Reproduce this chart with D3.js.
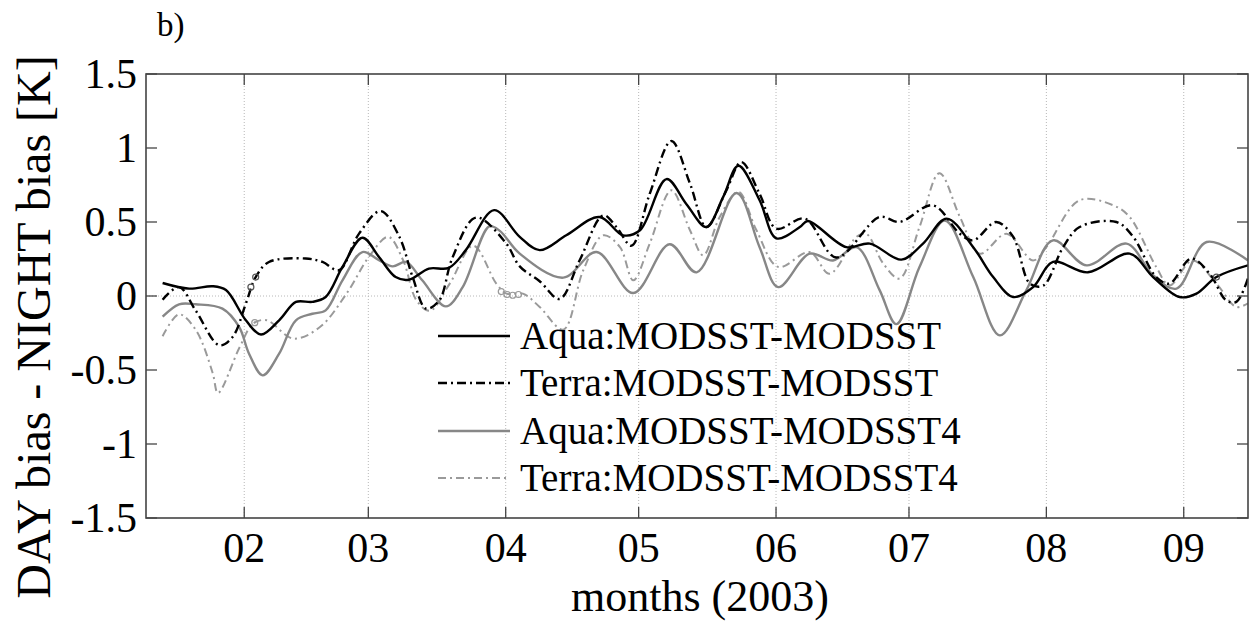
<!DOCTYPE html>
<html>
<head>
<meta charset="utf-8">
<script src="https://cdn.jsdelivr.net/npm/d3@7"></script>
</head>
<body style="margin:0">
<svg id="chart" width="1249" height="622" style="display:block; background:#fff; font-family: 'Liberation Serif', 'Times New Roman', serif;"></svg>
<script>
// ---------------- DATA (day-of-year 2003, value in K) ----------------
const monthTicks = ["02", "03", "04", "05", "06", "07", "08", "09"];
const yTicks = [1.5, 1, 0.5, 0, -0.5, -1, -1.5];
const yTickLabels = ["1.5", "1", "0.5", "0", "-0.5", "-1", "-1.5"];
const seriesNames = ["Aqua:MODSST-MODSST", "Terra:MODSST-MODSST", "Aqua:MODSST-MODSST4", "Terra:MODSST-MODSST4"];

const aquaDays = [13.6, 19.6, 24.9, 27.9, 32.4, 35.8, 39.9, 43.7, 47.4, 50.4, 54.2, 58.7, 62.5, 66.2, 69.2, 73.7, 78.2, 82.0, 88.4, 94.2, 98.7, 104.7, 112.2, 117.5, 121.3, 127.3, 131.8, 136.3, 140.1, 143.5, 148.3, 152.1, 157.4, 159.2, 167.9, 173.2, 180.3, 185.2, 190.5, 196.5, 201.0, 205.5, 210.0, 214.5, 222.4, 231.8, 237.1, 243.1, 246.9, 251.4, 258.5];
const aquaVals = [0.088, 0.05, 0.066, 0.04, -0.164, -0.26, -0.164, -0.04, -0.04, -0.007, 0.196, 0.394, 0.26, 0.128, 0.11, 0.185, 0.19, 0.31, 0.58, 0.40, 0.31, 0.41, 0.534, 0.41, 0.444, 0.79, 0.62, 0.466, 0.67, 0.88, 0.647, 0.39, 0.466, 0.507, 0.33, 0.354, 0.246, 0.354, 0.523, 0.33, 0.128, -0.007, 0.06, 0.23, 0.16, 0.286, 0.128, -0.007, 0.016, 0.128, 0.207];

const terraDays = [13.6, 17.3, 21.1, 26.4, 29.4, 32.4, 34.6, 37.6, 45.9, 49.7, 53.4, 57.9, 62.8, 67.0, 70.0, 73.0, 76.0, 79.0, 84.3, 91.0, 94.2, 98.7, 103.2, 107.7, 113.0, 116.0, 119.4, 123.5, 128.4, 132.6, 136.3, 140.8, 144.2, 148.3, 152.1, 158.5, 165.6, 175.4, 179.9, 187.4, 193.5, 196.5, 201.7, 205.5, 209.3, 212.3, 216.8, 220.5, 228.8, 232.6, 237.8, 240.8, 245.7, 249.9, 253.6, 255.9, 258.5];
const terraVals = [-0.025, 0.06, -0.1, -0.333, -0.277, -0.05, 0.128, 0.23, 0.253, 0.23, 0.174, 0.42, 0.574, 0.4, 0.128, -0.085, -0.03, 0.26, 0.53, 0.36, 0.2, 0.1, -0.02, 0.24, 0.545, 0.466, 0.34, 0.69, 1.047, 0.76, 0.466, 0.714, 0.905, 0.69, 0.455, 0.523, 0.26, 0.534, 0.5, 0.613, 0.42, 0.376, 0.5, 0.4, 0.084, 0.07, 0.33, 0.466, 0.5, 0.4, 0.128, 0.084, 0.253, 0.15, -0.03, -0.04, 0.12];

const aqua4Days = [13.6, 17.3, 21.1, 27.1, 30.9, 33.1, 36.2, 39.9, 43.7, 47.4, 50.4, 54.2, 58.7, 62.5, 65.5, 68.5, 72.2, 77.5, 81.3, 87.3, 89.7, 94.2, 104.0, 111.5, 119.8, 128.0, 134.1, 143.1, 148.3, 152.5, 159.6, 164.9, 170.2, 175.4, 179.2, 184.4, 190.1, 196.5, 202.5, 208.5, 214.5, 222.1, 231.1, 237.1, 242.4, 249.2, 258.5];
const aqua4Vals = [-0.14, -0.056, -0.056, -0.085, -0.21, -0.39, -0.536, -0.39, -0.164, -0.12, -0.097, 0.106, 0.297, 0.24, 0.2, 0.23, 0.106, -0.07, 0.06, 0.47, 0.44, 0.286, 0.124, 0.297, 0.02, 0.35, 0.16, 0.696, 0.33, 0.06, 0.286, 0.24, 0.33, 0.04, -0.19, 0.196, 0.51, 0.128, -0.266, 0.04, 0.376, 0.207, 0.354, 0.14, 0.05, 0.365, 0.24];

const terra4Days = [13.6, 17.3, 21.1, 24.9, 26.1, 31.0, 34.0, 37.1, 43.1, 49.1, 55.1, 60.4, 64.5, 67.9, 70.9, 73.9, 78.4, 83.7, 88.9, 91.2, 94.9, 98.7, 104.0, 108.5, 113.0, 116.8, 119.8, 123.5, 128.4, 132.6, 135.6, 139.3, 143.5, 147.6, 152.5, 159.6, 164.1, 170.2, 172.4, 176.2, 179.9, 184.4, 188.9, 193.5, 198.0, 204.0, 210.0, 213.0, 220.5, 228.1, 231.8, 237.8, 240.8, 246.0, 251.4, 255.9, 258.5];
const terra4Vals = [-0.272, -0.124, -0.23, -0.52, -0.655, -0.344, -0.186, -0.164, -0.288, -0.21, 0.016, 0.275, 0.4, 0.24, -0.03, -0.1, 0.084, 0.34, 0.084, 0.016, 0.016, -0.074, -0.227, 0.174, 0.41, 0.33, 0.106, 0.354, 0.714, 0.444, 0.275, 0.534, 0.703, 0.444, 0.196, 0.297, 0.15, 0.4, 0.42, 0.22, 0.118, 0.466, 0.83, 0.534, 0.286, 0.42, 0.24, 0.33, 0.647, 0.613, 0.534, 0.196, 0.072, 0.24, 0.084, -0.074, -0.05];

// small open circles seen on the curves (gap markers)
const markerDays = [33.5, 34.6, 34.4, 90.0, 91.3, 92.6, 93.9, 251.4];
const markerVals = [0.06, 0.128, -0.18, 0.03, 0.01, 0.005, 0.01, 0.128];
const markerSeries = [1, 1, 3, 3, 3, 3, 3, 0];

// ---------------- LAYOUT ----------------
const plotL = 146, plotR = 1248, plotT = 74, plotB = 518;
const dayToDate = d => new Date(2003, 0, Math.floor(d), (d % 1) * 24);

const svg = d3.select("#chart");
const x = d3.scaleTime()
  .domain([new Date(2003, 0, 9, 20), new Date(2003, 8, 15, 12)])
  .range([plotL, plotR]);
const y = d3.scaleLinear().domain([-1.5, 1.5]).range([plotB, plotT]);

const styles = [
  { color: "#000000", width: 2.4, dash: null },
  { color: "#000000", width: 2.4, dash: "9,4,2,4" },
  { color: "#878787", width: 2.4, dash: null },
  { color: "#9a9a9a", width: 2.0, dash: "8,4,2,4" }
];

const seriesData = [
  aquaDays.map((d, i) => ({ date: dayToDate(d), v: aquaVals[i] })),
  terraDays.map((d, i) => ({ date: dayToDate(d), v: terraVals[i] })),
  aqua4Days.map((d, i) => ({ date: dayToDate(d), v: aqua4Vals[i] })),
  terra4Days.map((d, i) => ({ date: dayToDate(d), v: terra4Vals[i] }))
];

const monthDates = monthTicks.map(m => new Date(2003, +m - 1, 1));

// grid
const grid = svg.append("g");
grid.selectAll("line.vg").data(monthDates).enter().append("line")
  .attr("x1", d => x(d)).attr("x2", d => x(d))
  .attr("y1", plotT).attr("y2", plotB)
  .attr("stroke", "#b8b8b8").attr("stroke-width", 1).attr("stroke-dasharray", "1,2");
grid.append("line")
  .attr("x1", plotL).attr("x2", plotR).attr("y1", y(0)).attr("y2", y(0))
  .attr("stroke", "#b8b8b8").attr("stroke-width", 1).attr("stroke-dasharray", "1,2");

// clip
svg.append("defs").append("clipPath").attr("id", "clip")
  .append("rect").attr("x", plotL).attr("y", plotT).attr("width", plotR - plotL).attr("height", plotB - plotT);

const line = d3.line().x(d => x(d.date)).y(d => y(d.v)).curve(d3.curveCatmullRom.alpha(0.5));
const plot = svg.append("g").attr("clip-path", "url(#clip)");
[3, 2, 1, 0].forEach(i => {
  plot.append("path").datum(seriesData[i])
    .attr("d", line)
    .attr("fill", "none")
    .attr("stroke", styles[i].color)
    .attr("stroke-width", styles[i].width)
    .attr("stroke-dasharray", styles[i].dash)
    .attr("stroke-linejoin", "round");
});
plot.selectAll("circle.mk").data(markerDays).enter().append("circle")
  .attr("cx", d => x(dayToDate(d)))
  .attr("cy", (d, i) => y(markerVals[i]))
  .attr("r", 3)
  .attr("fill", "none")
  .attr("stroke", (d, i) => markerSeries[i] === 3 ? "#999" : "#555")
  .attr("stroke-width", 1.2);

// axes frame
const axisColor = "#444";
const frame = svg.append("g");
frame.append("rect").attr("x", plotL).attr("y", plotT).attr("width", plotR - plotL).attr("height", plotB - plotT)
  .attr("fill", "none").attr("stroke", axisColor).attr("stroke-width", 1.6);

const tickLen = 11;
monthDates.forEach(d => {
  frame.append("line").attr("x1", x(d)).attr("x2", x(d)).attr("y1", plotB).attr("y2", plotB - tickLen)
    .attr("stroke", axisColor).attr("stroke-width", 1.3);
  frame.append("line").attr("x1", x(d)).attr("x2", x(d)).attr("y1", plotT).attr("y2", plotT + tickLen)
    .attr("stroke", axisColor).attr("stroke-width", 1.3);
});
yTicks.forEach(v => {
  frame.append("line").attr("x1", plotL).attr("x2", plotL + tickLen).attr("y1", y(v)).attr("y2", y(v))
    .attr("stroke", axisColor).attr("stroke-width", 1.3);
  frame.append("line").attr("x1", plotR).attr("x2", plotR - tickLen).attr("y1", y(v)).attr("y2", y(v))
    .attr("stroke", axisColor).attr("stroke-width", 1.3);
});

// tick labels
svg.selectAll("text.xt").data(monthTicks).enter().append("text")
  .attr("x", (d, i) => x(monthDates[i]))
  .attr("y", 562)
  .attr("text-anchor", "middle")
  .attr("font-size", 42)
  .style("font-family", "Liberation Serif")
  .text(d => d);
svg.selectAll("text.yt").data(yTicks).enter().append("text")
  .attr("x", 137)
  .attr("y", d => y(d) + 14)
  .attr("text-anchor", "end")
  .attr("font-size", 42)
  .style("font-family", "Liberation Serif")
  .text((d, i) => yTickLabels[i]);

// axis titles
svg.append("text")
  .attr("x", 700).attr("y", 611).attr("text-anchor", "middle")
  .attr("font-size", 44)
  .style("font-family", "Liberation Serif")
  .text("months (2003)");
svg.append("text")
  .attr("transform", "translate(50,327) rotate(-90)")
  .attr("text-anchor", "middle").attr("font-size", 48)
  .style("font-family", "Liberation Serif")
  .text("DAY bias - NIGHT bias [K]");

// panel label
svg.append("text").attr("x", 157).attr("y", 36).attr("font-size", 33)
  .style("font-family", "Liberation Serif").text("b)");

// legend
const legendRows = [336, 383, 431, 478];
const lg = svg.append("g");
seriesNames.forEach((name, i) => {
  lg.append("line").attr("x1", 438).attr("x2", 510).attr("y1", legendRows[i]).attr("y2", legendRows[i])
    .attr("stroke", styles[i].color).attr("stroke-width", styles[i].width)
    .attr("stroke-dasharray", styles[i].dash);
  lg.append("text")
    .attr("x", 520).attr("y", legendRows[i] + 13).attr("font-size", 39)
    .style("font-family", "Liberation Serif")
    .text(name);
});
</script>
</body>
</html>
